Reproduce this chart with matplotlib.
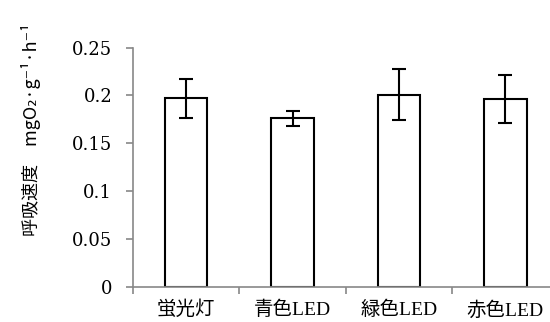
import matplotlib
matplotlib.use('Agg')
import matplotlib.pyplot as plt
import numpy as np

categories = ["蛍光灯", "青色LED", "緑色LED", "赤色LED"]
values = [0.197, 0.176, 0.201, 0.196]
errors = [0.020, 0.0077, 0.027, 0.025]
yticks = [0, 0.05, 0.1, 0.15, 0.2, 0.25]
ytick_labels = ["0", "0.05", "0.1", "0.15", "0.2", "0.25"]

plt.rcParams['font.family'] = ['DejaVu Serif', 'Noto Sans CJK JP']

fig = plt.figure(figsize=(5.5, 3.22), dpi=100)
ax = fig.add_axes([133/550, 1-287/322, 4*106.4/550, (287-47.6)/322])

x = np.arange(len(categories))
ax.bar(x, values, width=0.4, color='white', edgecolor='black', linewidth=1.5,
       yerr=errors, error_kw=dict(ecolor='black', elinewidth=1.5, capsize=5, capthick=1.5))

ax.set_xlim(-0.5, 3.5)
ax.set_ylim(0, 0.25)
ax.set_yticks(yticks)
ax.set_yticklabels(ytick_labels, fontsize=13)
ax.set_xticks([-0.5, 0.5, 1.5, 2.5, 3.5])
ax.set_xticklabels([])
ax.set_xticks(x, minor=True)
ax.set_xticklabels(categories, minor=True, fontsize=14,
                   family=['Liberation Serif', 'Noto Sans CJK JP'])
ax.tick_params(axis='x', which='minor', length=0, pad=10)
ax.tick_params(axis='both', which='major', length=5, color='#888888', width=1.2)
ax.tick_params(axis='y', pad=10)

for s in ['top', 'right']:
    ax.spines[s].set_visible(False)
for s in ['left', 'bottom']:
    ax.spines[s].set_color('#888888')
    ax.spines[s].set_linewidth(1.2)

fig.text(31/550, 1-130/322, "呼吸速度　mgO₂·g⁻¹·h⁻¹", rotation=90,
         ha='center', va='center', fontsize=13,
         family=['Noto Sans CJK JP', 'DejaVu Sans'])

plt.savefig("out.png", dpi=100)
plt.close()
